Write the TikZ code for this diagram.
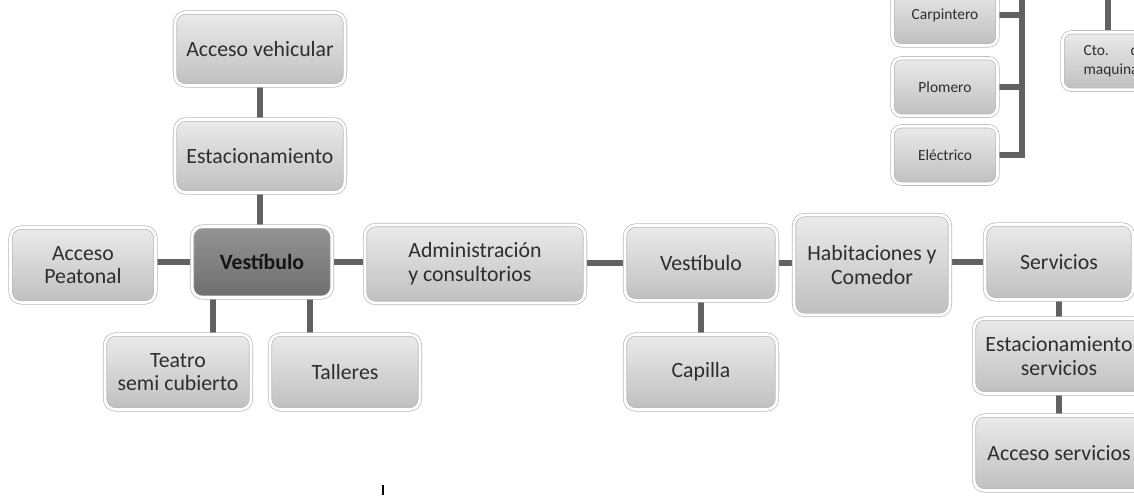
\documentclass[tikz,border=0pt]{standalone}
\usepackage{fontspec}
\setmainfont{Carlito}
\usetikzlibrary{positioning,calc,backgrounds}

\begin{document}
\begin{tikzpicture}[
    x=0.02cm, y=-0.02cm,
    block/.style={draw=black!28, line width=0.4pt, double=white, double distance=1.5pt, rounded corners=6pt, top color=black!8, bottom color=black!25, text=black!82, align=center, inner sep=2pt, outer sep=0pt, minimum width=2.9cm, minimum height=1.5cm, font=\fontsize{12.4}{13.5}\selectfont},
    hub/.style={block, top color=black!42, bottom color=black!57, text=black!92, font=\fontsize{12.4}{13.5}\selectfont\bfseries},
    small/.style={block, minimum width=2.1cm, minimum height=1.15cm, rounded corners=5pt, font=\fontsize{8.8}{10.5}\selectfont},
    link/.style={line width=3.4pt, draw=black!62}
]
\useasboundingbox (0,0) rectangle (1134,495);
\clip (0,0) rectangle (1134,495);
% left group
\node[block, minimum width=3.4cm, minimum height=1.46cm] (accveh) at (260,49) {Acceso vehicular};
\node[block, minimum width=3.4cm, minimum height=1.46cm] (estac) at (260,156) {Estacionamiento};
\node[hub, minimum width=2.8cm, minimum height=1.42cm] (vest1) at (262,262) {Vestíbulo};
\node[block] (accpea) at (83,265) {Acceso\\Peatonal};
\node[block, minimum width=2.92cm] (teatro) at (178,372) {Teatro\\semi cubierto};
\node[block, minimum width=3.0cm] (talleres) at (345,372) {Talleres};
% main row
\node[block, minimum width=4.4cm, minimum height=1.56cm, align=left] (admin) at (475,264) {Administración\\y consultorios};
\node[block, minimum width=3.04cm] (vest2) at (701,263) {Vestíbulo};
\node[block, minimum width=3.04cm] (capilla) at (701,372) {Capilla};
\node[block, minimum width=3.12cm, minimum height=2.0cm] (habit) at (872,265) {Habitaciones y\\Comedor};
\node[block, minimum width=2.96cm] (serv) at (1059,262) {Servicios};
\node[block, minimum width=3.4cm] (estserv) at (1059,356) {Estacionamiento\\servicios};
\node[block, minimum width=3.4cm] (accserv) at (1059,453) {Acceso servicios};
% upper right
\node[small, minimum height=1.22cm] (carp) at (945,15) {Carpintero};
\node[small] (plom) at (945,87) {Plomero};
\node[small] (elec) at (945,155) {Eléctrico};
\node[small, text width=1.26cm, align=left] (cto) at (1115,61) {Cto.\hfill de\\maquinas};
\coordinate (bustop) at (1022,0);
\coordinate (ctotop) at (1108,0);
\coordinate (t1) at ($(vest1.south west)!0.15!(vest1.south east)$);
\coordinate (t2) at ($(vest1.south west)!0.84!(vest1.south east)$);

\begin{scope}[on background layer]
\draw[link] (accveh.south) -- (accveh.south |- estac.north);
\draw[link] (estac.south) -- (estac.south |- vest1.north);
\draw[link] (vest1.west) -- (vest1.west -| accpea.east);
\draw[link] (vest1.east) -- (vest1.east -| admin.west);
\draw[link] (t1) -- (t1 |- teatro.north);
\draw[link] (t2) -- (t2 |- talleres.north);
\draw[link] (admin.east |- vest2.east) -- (vest2.east -| admin.east) -- (vest2.west);
\draw[link] (vest2.east) -- (vest2.east -| habit.west);
\draw[link] (serv.west -| habit.east) -- (serv.west);
\draw[link] (vest2) -- (capilla);
\draw[link] (serv) -- (estserv);
\draw[link] (estserv) -- (accserv);
\draw[link] (bustop) |- (elec.east);
\draw[link] (carp.east) -- (carp.east -| bustop);
\draw[link] (plom.east) -- (plom.east -| bustop);
\draw[link] (ctotop) -- (ctotop |- cto.north);
\end{scope}

\draw[line width=1.1pt] (383,485) -- (383,495);
\end{tikzpicture}
\end{document}
